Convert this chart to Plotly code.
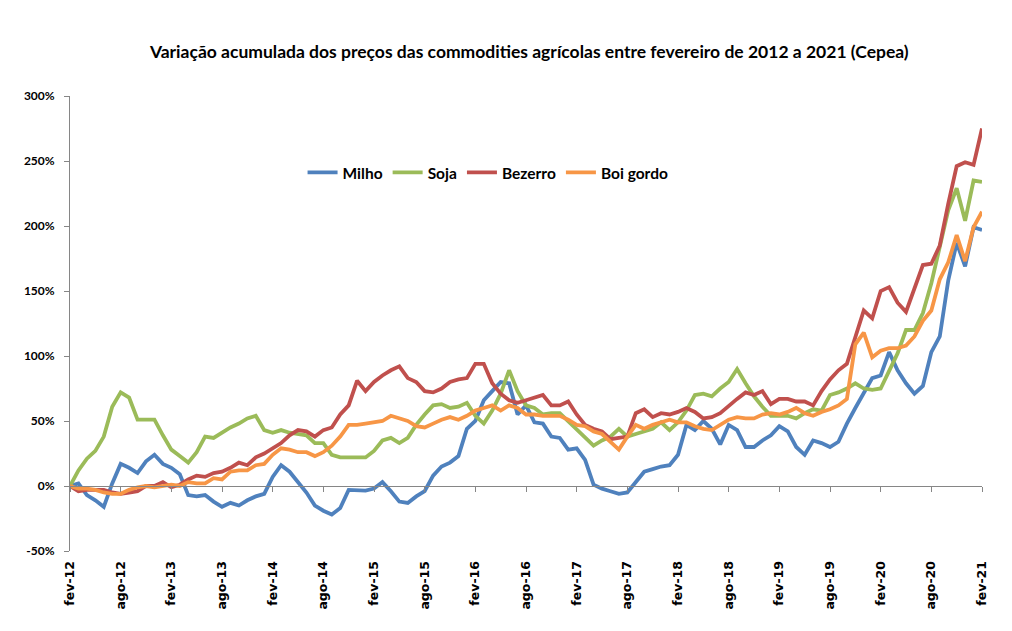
import plotly.graph_objects as go

tick_labels = ["fev-12", "ago-12", "fev-13", "ago-13", "fev-14", "ago-14", "fev-15", "ago-15",
               "fev-16", "ago-16", "fev-17", "ago-17", "fev-18", "ago-18", "fev-19", "ago-19",
               "fev-20", "ago-20", "fev-21"]
y_tick_values = [-50, 0, 50, 100, 150, 200, 250, 300]
y_tick_labels = ["-50%", "0%", "50%", "100%", "150%", "200%", "250%", "300%"]

milho = [0, 2, -7, -11, -16, 2, 17, 14, 10, 19, 24, 17, 14, 9, -7, -8, -7, -12, -16, -13,
         -15, -11, -8, -6, 7, 16, 11, 3, -5, -15, -19, -22, -17, -3, -3, -3.5, -2, 3, -4, -12,
         -13, -8, -4, 8, 15, 18, 23, 44, 50, 66, 73, 80, 79, 55, 62, 49, 48, 38, 37, 28,
         29, 20, 1, -2, -4, -6, -5, 3, 11, 13, 15, 16, 24, 47, 43, 50, 44, 32, 47, 43,
         30, 30, 35, 39, 46, 42, 30, 24, 35, 33, 30, 34, 48, 60, 72, 83, 85, 103, 89, 79,
         71, 77, 103, 115, 158, 187, 169, 199, 197]

soja = [0, 12, 21, 27, 38, 61, 72, 68, 51, 51, 51, 39, 28, 23, 18, 26, 38, 37, 41, 45,
        48, 52, 54, 43, 41, 43, 41, 40, 39, 33, 33, 24, 22, 22, 22, 22, 27, 35, 37, 33,
        37, 47, 55, 62, 63, 60, 61, 64, 54, 48, 58, 71, 89, 73, 62, 60, 55, 56, 56, 50,
        44, 38, 31, 35, 38, 44, 38, 40, 42, 44, 49, 43, 49, 58, 70, 71, 69, 75, 80, 90,
        79, 69, 61, 54, 54, 54, 52, 56, 59, 58, 70, 72, 75, 79, 75, 74, 75, 88, 102, 120,
        120, 133, 156, 184, 212, 229, 204, 235, 234]

bezerro = [0, -4, -3, -3, -3, -5, -6, -5, -4, 0, 0, 3, -1, 1, 5, 8, 7, 10, 11, 14,
           18, 16, 22, 25, 29, 33, 39, 43, 42, 38, 43, 45, 55, 62, 81, 73, 80, 85, 89, 92,
           83, 80, 73, 72, 75, 80, 82, 83, 94, 94, 79, 71, 66, 64, 66, 68, 70, 62, 62, 65,
           55, 47, 44, 42, 36, 37, 38, 56, 59, 53, 56, 55, 57, 60, 57, 52, 53, 56, 62, 67,
           72, 70, 73, 63, 67, 67, 65, 65, 62, 73, 82, 89, 94, 115, 135, 129, 150, 153, 141, 134,
           152, 170, 171, 185, 217, 246, 249, 247, 275]

boi_gordo = [0, -2, -2, -3, -5, -6, -6, -3, -1, 0, -1, 0, 1, 0, 3, 2, 2, 6, 5, 11,
             12, 12, 16, 17, 24, 29, 28, 26, 26, 23, 26, 31, 38, 47, 47, 48, 49, 50, 54, 52,
             50, 46, 45, 48, 51, 53, 51, 54, 58, 60, 62, 58, 62, 60, 55, 55, 54, 54, 54, 51,
             47, 46, 42, 40, 34, 28, 38, 47, 44, 47, 49, 51, 49, 49, 46, 44, 43, 47, 51, 53,
             52, 52, 55, 56, 55, 57, 60, 56, 54, 57, 59, 62, 67, 109, 118, 99, 104, 106, 106, 108,
             115, 127, 135, 159, 172, 193, 173, 199, 211]

series = [("Milho", milho, "#4F81BD"), ("Soja", soja, "#9BBB59"),
          ("Bezerro", bezerro, "#C0504D"), ("Boi gordo", boi_gordo, "#F79646")]

n = len(milho)
xs = list(range(n))
tickvals = list(range(0, n, 6))

fig = go.Figure()
for name, vals, color in series:
    fig.add_trace(go.Scatter(x=xs, y=vals, mode="lines", name="<b>" + name + "</b>",
                             line=dict(color=color, width=3.8)))
# helper trace for the category axis drawn at the zero level
fig.add_trace(go.Scatter(x=[xs[0], xs[-1]], y=[None, None], xaxis="x2", showlegend=False,
                         hoverinfo="skip", mode="lines"))

axis_gray = "#868686"
fig.update_layout(
    width=1012, height=631,
    paper_bgcolor="white", plot_bgcolor="white",
    margin=dict(l=70, r=30, t=96, b=80),
    title=dict(text="<b>Variação acumulada dos preços das commodities agrícolas entre fevereiro de 2012 a 2021 (Cepea)</b>",
               x=0.523, xref="container", xanchor="center", y=0.918, yref="container", yanchor="middle",
               font=dict(family="Lato", size=17.5, color="black")),
    showlegend=True,
    legend=dict(orientation="h", x=0.255, xanchor="left", y=0.831, yanchor="middle",
                font=dict(family="Lato", size=15.5, color="black"),
                itemwidth=30, bgcolor="rgba(0,0,0,0)"),
    xaxis=dict(range=[0, n - 1], tickvals=tickvals,
               ticktext=["<b>" + t + "</b>" for t in tick_labels], tickangle=-90,
               showline=False, showgrid=False, zeroline=False, ticks="outside", ticklen=4,
               tickcolor="rgba(0,0,0,0)",
               tickfont=dict(family="DejaVu Sans", size=12.5, color="black")),
    xaxis2=dict(range=[0, n - 1], overlaying="x", anchor="free", position=50 / 350, side="bottom",
                tickvals=tickvals, showticklabels=False, ticks="outside", ticklen=5,
                tickcolor=axis_gray, showline=True, linecolor=axis_gray, linewidth=1,
                showgrid=False, zeroline=False),
    yaxis=dict(range=[-50, 300], tickvals=y_tick_values,
               ticktext=["<b>" + t + "</b>" for t in y_tick_labels],
               showline=True, linecolor=axis_gray, linewidth=1, ticks="outside", ticklen=5,
               tickcolor=axis_gray, showgrid=False, zeroline=False, ticklabelstandoff=7,
               tickfont=dict(family="Lato", size=12, color="black")),
)

fig.write_html("out.html")
